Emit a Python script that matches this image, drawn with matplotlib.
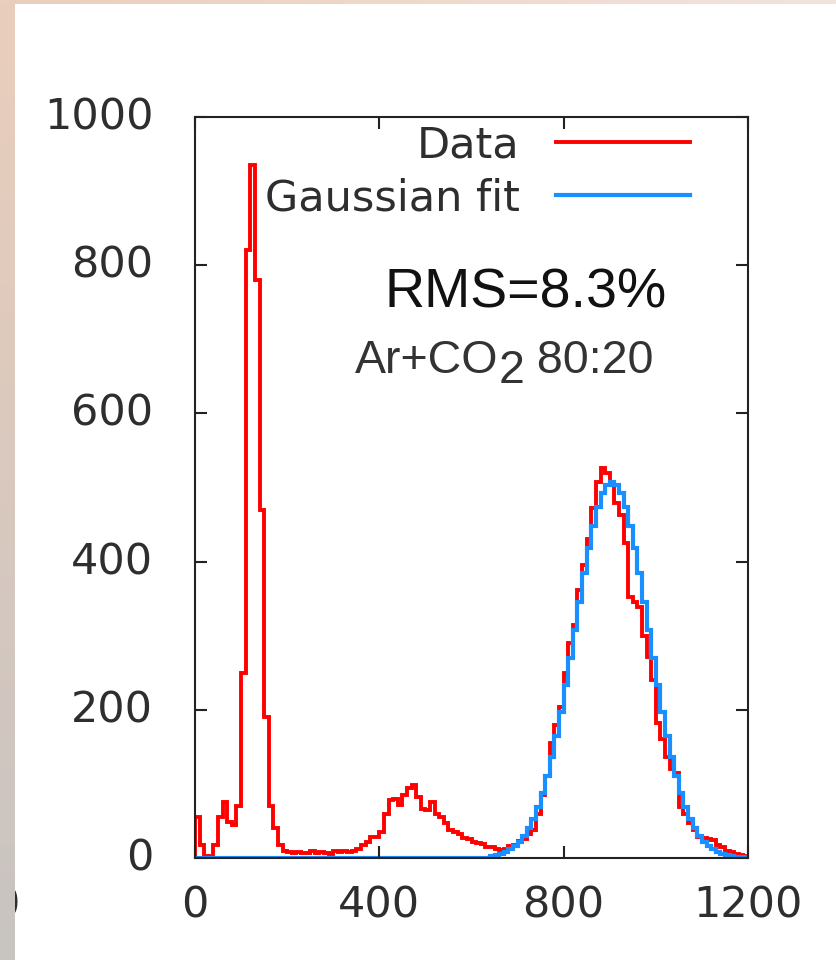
import numpy as np
import matplotlib
matplotlib.use('Agg')
import matplotlib.pyplot as plt
import matplotlib.transforms as mtrans

# 直方图：道宽 10，共 120 道
bin_edges = np.arange(0, 1210, 10)

data_counts = [
    55, 18, 3, 2, 18, 55, 75, 48, 45, 70,
    250, 820, 935, 780, 470, 190, 70, 40, 18, 9,
    8, 7, 8, 7, 7, 9, 7, 8, 7, 6,
    10, 8, 9, 8, 10, 12, 17, 22, 28, 28,
    35, 60, 78, 80, 72, 85, 94, 98, 82, 66,
    65, 76, 60, 56, 47, 38, 35, 32, 27, 26,
    21, 20, 19, 15, 15, 12, 11, 12, 16, 18,
    23, 25, 33, 38, 60, 85, 110, 155, 180, 204,
    250, 290, 315, 362, 395, 430, 472, 507, 526, 520,
    506, 479, 463, 425, 352, 345, 339, 300, 271, 240,
    182, 160, 136, 120, 115, 69, 60, 47, 38, 29,
    27, 25, 24, 18, 15, 10, 8, 6, 4, 3,
]

fit_counts = [0] * 64 + [
    3, 4, 6, 8, 12, 16,
    22, 30, 40, 53, 69, 88, 110, 136, 165, 197,
    233, 270, 308, 346, 384, 418, 448, 474, 492, 504,
    508, 504, 492, 474, 448, 418, 384, 346, 308, 270,
    233, 197, 165, 136, 110, 88, 69, 53, 40, 30,
    22, 16, 12, 8, 6, 4, 3, 2, 1, 1,
]

x_ticks = [0, 400, 800, 1200]
y_ticks = [0, 200, 400, 600, 800, 1000]

RED = '#ff0000'
BLUE = '#1a8fff'
TXT = '#2e2e2e'

plt.rcParams['font.family'] = 'DejaVu Sans'

fig = plt.figure(figsize=(8.36, 9.6), dpi=100)
ax = fig.add_axes([195 / 836, 1 - 858 / 960, 553 / 836, 741 / 960])

ax.stairs(data_counts, bin_edges, color=RED, linewidth=2.8, label='Data')
ax.stairs(fit_counts, bin_edges, color=BLUE, linewidth=3.0, label='Gaussian fit')

ax.set_xlim(0, 1200)
ax.set_ylim(0, 1000)
ax.set_xticks(x_ticks)
ax.set_yticks(y_ticks)
ax.tick_params(direction='in', length=8.5, width=1.5, color='#222222',
               top=True, right=True, labelsize=31, labelcolor=TXT)
ax.tick_params(axis='x', pad=19)
ax.tick_params(axis='y', pad=30)
# y 刻度数字略微上移
up = mtrans.ScaledTranslation(0, 4 / 100, fig.dpi_scale_trans)
for lab in ax.get_yticklabels():
    lab.set_transform(lab.get_transform() + up)
for sp in ax.spines.values():
    sp.set_linewidth(1.5)
    sp.set_color('#222222')

leg = ax.legend(loc='upper right', bbox_to_anchor=(0.895, 0.99), frameon=False,
                markerfirst=False, fontsize=31, handlelength=3.1,
                handletextpad=0.85, labelspacing=0.25, borderpad=0,
                borderaxespad=0)
for t in leg.get_texts():
    t.set_color(TXT)

ax.text(0.597, 0.762, 'RMS=8.3%', transform=ax.transAxes, ha='center',
        va='center', fontsize=40, family='Liberation Sans', color='#111111')

t1 = ax.text(160 / 553, (858 - 373) / 741, 'Ar+CO', transform=ax.transAxes,
             ha='left', va='baseline', fontsize=33.5, family='Liberation Sans',
             color='#333333')
t2 = ax.annotate('2', xy=(1, 0), xycoords=t1, xytext=(0, -7),
                 textcoords='offset points', ha='left', va='bottom',
                 fontsize=33.5, family='Liberation Sans', color='#333333')
ax.annotate(' 80:20', xy=(1, 0), xycoords=t2, xytext=(0, 7),
            textcoords='offset points', ha='left', va='bottom',
            fontsize=33.5, family='Liberation Sans', color='#333333')

# 左侧被裁掉的刻度数字（大部分被色带遮住）
fig.text(6 / 836, 1 - 905 / 960, '0', ha='center', va='center', fontsize=31,
         color=TXT, zorder=1)

# 截图边缘的渐变色带
strip_l = fig.add_axes([0, 0, 15 / 836, 1])
strip_l.set_zorder(10)
grad_l = np.linspace(0, 1, 256)[:, None, None]
top_c = np.array([234, 206, 188]) / 255
bot_c = np.array([200, 196, 193]) / 255
strip_l.imshow(top_c * (1 - grad_l) + bot_c * grad_l, aspect='auto')
strip_l.axis('off')

strip_t = fig.add_axes([0, 1 - 4 / 960, 1, 4 / 960])
strip_t.set_zorder(10)
grad_t = np.linspace(0, 1, 256)[None, :, None]
right_c = np.array([242, 228, 220]) / 255
strip_t.imshow(top_c * (1 - grad_t) + right_c * grad_t, aspect='auto')
strip_t.axis('off')

fig.savefig('out.png', dpi=100)
